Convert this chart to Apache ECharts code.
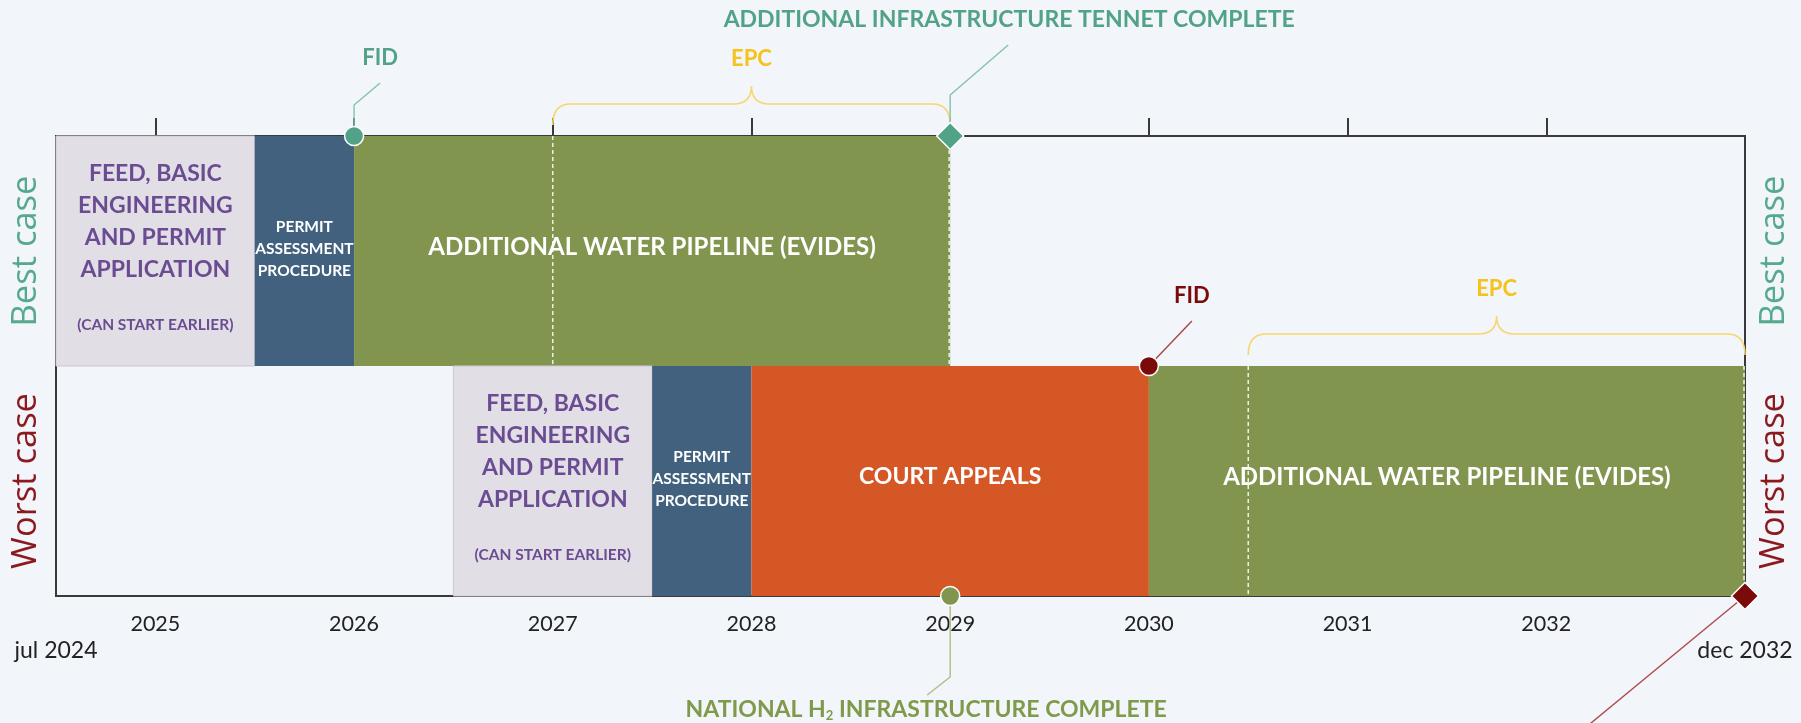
<!DOCTYPE html>
<html>
<head>
<meta charset="utf-8">
<title>Best case / worst case timeline</title>
<script src="https://cdn.jsdelivr.net/npm/echarts@6.0.0/dist/echarts.min.js"></script>
<style>
  html, body { margin: 0; padding: 0; background: #f2f5fa; }
  #chart { width: 1801px; height: 723px; }
</style>
</head>
<body>
<div id="chart"></div>
<script>
// ---- data ----
var yearTicks = [2025, 2026, 2027, 2028, 2029, 2030, 2031, 2032];
var edgeDates = [2024.5, 2033];
var edgeLabels = ['jul 2024', 'dec 2032'];
var rowNames = ['Worst case', 'Best case'];

var bestTasks = ['feed', 'permit', 'pipeline'];
var bestStart = [2024.5, 2025.5, 2026];
var bestEnd = [2025.5, 2026, 2029];

var worstTasks = ['feed', 'permit', 'court', 'pipeline'];
var worstStart = [2026.5, 2027.5, 2028, 2030];
var worstEnd = [2027.5, 2028, 2030, 2033];

var epcStart = [2027, 2030.5];
var epcEnd = [2029, 2033];
var epcRow = [1, 0];

var msNames = ['FID', 'ADDITIONAL INFRASTRUCTURE TENNET COMPLETE', 'FID',
  '{t|NATIONAL H}{sub|2}{t| INFRASTRUCTURE COMPLETE}', ''];
var msDates = [2026, 2029, 2030, 2029, 2033];
var msEdge = [2, 2, 1, 0, 0];

var taskText = {
  feed: 'FEED, BASIC\nENGINEERING\nAND PERMIT\nAPPLICATION',
  permit: 'PERMIT\nASSESSMENT\nPROCEDURE',
  pipeline: 'ADDITIONAL WATER PIPELINE (EVIDES)',
  court: 'COURT APPEALS'
};
var feedNote = '(CAN START EARLIER)';

// ---- styles ----
var teal = '#52a287', darkRed = '#7b0a0a', olive = '#7f9a4a', gold = '#f5c31a';
var taskColor = { feed: '#e1dee5', permit: '#41617e', pipeline: '#82954f', court: '#d65726' };
var taskFont = { pipeline: 24, court: 23 };
var msStyle = [
  { symbol: 'circle', color: teal, line: '#80c3ad', pts: [[0, 0], [0, -31], [26, -53]], label: [26, -78], size: 22 },
  { symbol: 'diamond', color: teal, line: '#80c3ad', pts: [[0, 0], [0, -41], [58, -91]], label: [59, -116], size: 23 },
  { symbol: 'circle', color: darkRed, line: '#a84545', pts: [[0, 0], [43, -45]], label: [43, -70], size: 22 },
  { symbol: 'circle', color: '#82954f', line: '#aebb85', pts: [[0, 0], [0, 81], [-23, 99]], label: [-24, 114], size: 23 },
  { symbol: 'diamond', color: darkRed, line: '#b04a4a', pts: [[0, 0], [-200, 165]], label: [0, 0], size: 22 }
];
var msLabelColor = [teal, teal, darkRed, olive, darkRed];
var font = 'Lato';

// ---- series data built from the arrays ----
var taskKinds = [], taskData = [];
bestTasks.forEach(function (t, i) {
  taskKinds.push(t);
  taskData.push([bestStart[i], bestEnd[i], 1, 2]);
});
worstTasks.forEach(function (t, i) {
  taskKinds.push(t);
  taskData.push([worstStart[i], worstEnd[i], 0, 1]);
});
var epcData = epcStart.map(function (s, i) {
  return [s, epcEnd[i], epcRow[i], epcRow[i] + 1];
});
var msData = msDates.map(function (d, i) { return [d, msEdge[i]]; });

function renderTask(params, api) {
  var kind = taskKinds[params.dataIndex];
  var tl = api.coord([api.value(0), api.value(3)]);
  var br = api.coord([api.value(1), api.value(2)]);
  var x = tl[0], y = tl[1], w = br[0] - tl[0], h = br[1] - tl[1];
  var children = [{
    type: 'rect',
    shape: { x: x, y: y, width: w, height: h },
    style: { fill: taskColor[kind], stroke: kind === 'feed' ? '#cbc9d0' : null, lineWidth: 1 }
  }];
  if (kind === 'feed') {
    children.push({
      type: 'text',
      style: { x: x + w / 2, y: y + h * 0.37, text: taskText.feed, align: 'center', verticalAlign: 'middle',
        fontFamily: font, fontWeight: 'bold', fontSize: 23, lineHeight: 32, fill: '#6b4c93' }
    });
    children.push({
      type: 'text',
      style: { x: x + w / 2, y: y + h * 0.82, text: feedNote, align: 'center', verticalAlign: 'middle',
        fontFamily: font, fontWeight: 'bold', fontSize: 15.5, fill: '#6b4c93' }
    });
  } else if (kind === 'permit') {
    children.push({
      type: 'text',
      style: { x: x + w / 2, y: y + h / 2 - 2, text: taskText.permit, align: 'center', verticalAlign: 'middle',
        fontFamily: font, fontWeight: 'bold', fontSize: 15.5, lineHeight: 22, fill: '#ffffff' }
    });
  } else {
    children.push({
      type: 'text',
      style: { x: x + w / 2, y: y + h / 2 - 4, text: taskText[kind], align: 'center', verticalAlign: 'middle',
        fontFamily: font, fontWeight: 'bold', fontSize: taskFont[kind], fill: '#ffffff' }
    });
  }
  return { type: 'group', children: children };
}

function renderEpc(params, api) {
  var a = api.coord([api.value(0), api.value(3)]);
  var b = api.coord([api.value(1), api.value(2)]);
  var x0 = a[0], x1 = b[0], top = a[1], bottom = b[1];
  var xm = (x0 + x1) / 2, r = 18;
  var yE = top - 11, yH = top - 32, yP = top - 50;
  var d = 'M' + x0 + ' ' + yE + ' Q' + x0 + ' ' + yH + ' ' + (x0 + r) + ' ' + yH +
    ' L' + (xm - r) + ' ' + yH + ' Q' + xm + ' ' + yH + ' ' + xm + ' ' + yP +
    ' Q' + xm + ' ' + yH + ' ' + (xm + r) + ' ' + yH +
    ' L' + (x1 - r) + ' ' + yH + ' Q' + x1 + ' ' + yH + ' ' + x1 + ' ' + yE;
  var dash = { stroke: 'rgba(255,255,255,0.85)', lineWidth: 1.5, lineDash: [4, 3] };
  return {
    type: 'group',
    children: [
      { type: 'line', shape: { x1: x0, y1: top, x2: x0, y2: bottom }, style: dash },
      { type: 'line', shape: { x1: x1 - 1, y1: top, x2: x1 - 1, y2: bottom }, style: dash },
      { type: 'path', shape: { pathData: d }, style: { fill: 'none', stroke: '#f8d66e', lineWidth: 1.6 } },
      { type: 'text', style: { x: xm, y: top - 77, text: 'EPC', align: 'center', verticalAlign: 'middle',
        fontFamily: font, fontWeight: 'bold', fontSize: 22, fill: gold } }
    ]
  };
}

function renderMilestone(params, api) {
  var i = params.dataIndex, s = msStyle[i];
  var p = api.coord([api.value(0), api.value(1)]);
  var pts = s.pts.map(function (q) { return [p[0] + q[0], p[1] + q[1]]; });
  var children = [{ type: 'polyline', shape: { points: pts }, style: { fill: 'none', stroke: s.line, lineWidth: 1.4 } }];
  if (s.symbol === 'circle') {
    children.push({ type: 'circle', shape: { cx: p[0], cy: p[1], r: 9.5 },
      style: { fill: s.color, stroke: '#ffffff', lineWidth: 1.5 } });
  } else {
    var k = 13.5;
    children.push({ type: 'polygon',
      shape: { points: [[p[0], p[1] - k], [p[0] + k, p[1]], [p[0], p[1] + k], [p[0] - k, p[1]]] },
      style: { fill: s.color, stroke: '#ffffff', lineWidth: 1.5 } });
  }
  if (msNames[i]) {
    children.push({ type: 'text', style: {
      x: p[0] + s.label[0], y: p[1] + s.label[1], text: msNames[i], align: 'center', verticalAlign: 'middle',
      fontFamily: font, fontWeight: 'bold', fontSize: s.size, fill: msLabelColor[i],
      rich: {
        t: { fontFamily: font, fontWeight: 'bold', fontSize: s.size, fill: msLabelColor[i] },
        sub: { fontFamily: font, fontWeight: 'bold', fontSize: 13, fill: msLabelColor[i], padding: [12, 0, 0, 0] }
      }
    } });
  }
  return { type: 'group', children: children };
}

var chart = echarts.init(document.getElementById('chart'));
var axisDark = '#3a3a3a';
var rowLabelRich = {
  b: { fontFamily: 'Open Sans', fontSize: 34.5, color: '#55a98c' },
  w: { fontFamily: 'Open Sans', fontSize: 34.5, color: '#8b1a1f' }
};
function rowLabel(v) { return v === 'Best case' ? '{b|' + v + '}' : '{w|' + v + '}'; }

var option = {
  backgroundColor: '#f2f5fa',
  animation: false,
  grid: {
    left: 56, right: 56, top: 136, bottom: 127,
    show: true, borderColor: axisDark, borderWidth: 2, backgroundColor: 'transparent',
    outerBoundsMode: 'none'
  },
  xAxis: [{
    type: 'value', min: 2024.5, max: 2033, position: 'bottom',
    axisLine: { show: true, lineStyle: { color: axisDark, width: 2 } },
    axisTick: { show: false },
    splitLine: { show: false },
    axisLabel: { customValues: yearTicks, margin: 17, fontFamily: font, fontSize: 21.5, color: '#222',
      formatter: function (v) { return String(v); } }
  }, {
    type: 'value', min: 2024.5, max: 2033, position: 'top',
    axisLine: { show: true, lineStyle: { color: axisDark, width: 2 } },
    axisTick: { show: true, customValues: yearTicks, length: 18, lineStyle: { color: axisDark, width: 2 } },
    axisLabel: { show: false },
    splitLine: { show: false }
  }, {
    type: 'value', min: 2024.5, max: 2033, position: 'bottom', offset: 27,
    axisLine: { show: false }, axisTick: { show: false }, splitLine: { show: false },
    axisLabel: { customValues: edgeDates, margin: 16, fontFamily: font, fontSize: 23, color: '#222',
      formatter: function (v) { return edgeLabels[edgeDates.indexOf(v)]; } }
  }],
  yAxis: [{
    type: 'value', min: 0, max: 2, show: false
  }, {
    type: 'category', data: rowNames, position: 'left',
    axisLine: { show: false }, axisTick: { show: false },
    axisLabel: { rotate: 90, margin: 12, formatter: rowLabel, rich: rowLabelRich }
  }, {
    type: 'category', data: rowNames, position: 'right',
    axisLine: { show: false }, axisTick: { show: false },
    axisLabel: { rotate: 90, margin: 12, formatter: rowLabel, rich: rowLabelRich }
  }],
  series: [{
    type: 'custom', name: 'tasks', renderItem: renderTask, data: taskData, clip: false, z: 3,
    encode: { x: [0, 1], y: [2, 3] }
  }, {
    type: 'custom', name: 'epc', renderItem: renderEpc, data: epcData, clip: false, z: 4,
    encode: { x: [0, 1], y: [2, 3] }
  }, {
    type: 'custom', name: 'milestones', renderItem: renderMilestone, data: msData, clip: false, z: 5,
    encode: { x: 0, y: 1 }
  }]
};
chart.setOption(option);
</script>
</body>
</html>
